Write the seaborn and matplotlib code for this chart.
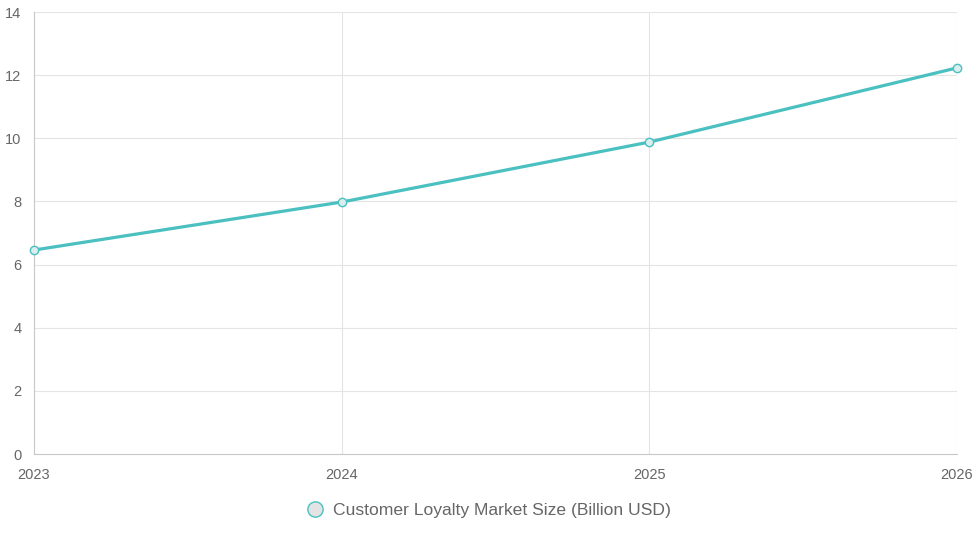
import numpy as np
import pandas as pd
import seaborn as sns
import matplotlib.pyplot as plt
from matplotlib.lines import Line2D

years = ["2023", "2024", "2025", "2026"]
market_size = [6.46, 7.98, 9.88, 12.23]
series_name = "Customer Loyalty Market Size (Billion USD)"

teal = "#4bc0c0"
grid_col = "#e4e4e4"
text_col = "#666666"

df = pd.DataFrame({"pos": np.arange(len(years)), "value": market_size})

sns.set_style("white")
plt.rcParams['font.family'] = ['Liberation Sans', 'DejaVu Sans']

fig = plt.figure(figsize=(9.78, 5.33), dpi=100)
ax = fig.add_axes([34/978, 1 - 454/533, (957-34)/978, (454-12)/533])

sns.lineplot(data=df, x="pos", y="value", ax=ax, color=teal, linewidth=2.3,
             marker="o", markersize=6, markerfacecolor="#d9eeee",
             markeredgecolor=teal, markeredgewidth=1.0, clip_on=False, zorder=3)

ax.set_xlim(0, len(years) - 1)
ax.set_ylim(0, 14)
ax.set_xticks(df["pos"])
ax.set_xticklabels(years)
ax.set_yticks(range(0, 15, 2))
ax.set_xlabel("")
ax.set_ylabel("")
ax.grid(True, color=grid_col, linewidth=0.8)
ax.set_axisbelow(True)
for s in ["top", "right"]:
    ax.spines[s].set_visible(False)
for s in ["left", "bottom"]:
    ax.spines[s].set_color("#c8c8c8")
    ax.spines[s].set_linewidth(0.8)
ax.tick_params(axis="both", colors=grid_col, labelcolor=text_col, labelsize=10.5, length=6, width=0.8)
ax.tick_params(axis="x", pad=4)
ax.tick_params(axis="y", pad=3)

handle = Line2D([], [], linestyle="none", marker="o", markersize=11,
                markerfacecolor="#e3e3e3", markeredgecolor=teal, markeredgewidth=1.0)
fig.legend([handle], [series_name], loc="center", bbox_to_anchor=(0.4995, 1 - 510/533),
           frameon=False, fontsize=12.6, labelcolor=text_col, handletextpad=0.5,
           handlelength=1.0, borderpad=0)

fig.savefig("out.png", dpi=100)
